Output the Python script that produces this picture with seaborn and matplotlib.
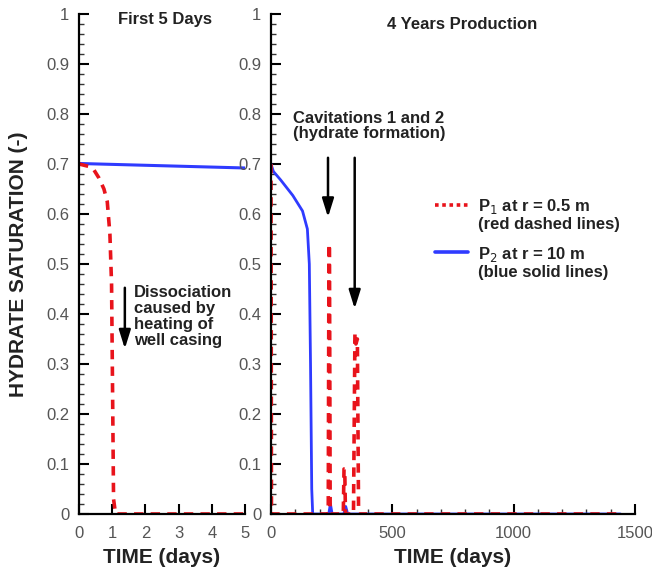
import matplotlib
matplotlib.use("Agg")
import matplotlib.pyplot as plt
import pandas as pd
import seaborn as sns
from matplotlib.lines import Line2D
from matplotlib.legend_handler import HandlerLine2D
from matplotlib.ticker import MultipleLocator, FormatStrFormatter

#########################
#         DATA          #
#########################
# first 5 days (well P1 at r=0.5 m, P2 at r=10 m)
p1_days_short = [0, 0.3, 0.45, 0.6, 0.75, 0.85, 0.93, 0.98, 1.01, 1.04, 1.1, 5]
p1_sat_short = [0.70, 0.695, 0.688, 0.672, 0.65, 0.625, 0.56, 0.46, 0.25, 0.03, 0, 0]
p2_days_short = [0, 5]
p2_sat_short = [0.701, 0.692]

# 4 years production
p1_days_long = [0, 1, 2, 236, 239, 241, 244, 298, 301, 304, 307, 340, 346, 350, 356, 361, 1440]
p1_sat_long = [0.70, 0.40, 0, 0, 0.54, 0.54, 0, 0, 0.09, 0.09, 0, 0, 0.36, 0.34, 0.35, 0, 0]
p2_days_long = [0, 10, 40, 90, 130, 150, 158, 163, 168, 172, 238, 245, 252, 300, 308, 316, 1440]
p2_sat_long = [0.70, 0.685, 0.668, 0.637, 0.606, 0.57, 0.5, 0.3, 0.05, 0, 0, 0.02, 0, 0, 0.015, 0, 0]

yticks = [0, 0.1, 0.2, 0.3, 0.4, 0.5, 0.6, 0.7, 0.8, 0.9, 1]

red = "#e8131b"
blue = "#2f3bff"


# legend sample sits on the first line of a two line label
class FirstLineHandler(HandlerLine2D):
    def create_artists(self, legend, orig_handle, xdescent, ydescent,
                       width, height, fontsize, trans):
        return super().create_artists(legend, orig_handle, xdescent,
                                      ydescent - 1.25 * fontsize, width, height,
                                      fontsize, trans)


sns.set_style("ticks", {"xtick.direction": "in", "ytick.direction": "in"})
plt.rcParams["font.family"] = ["Liberation Sans", "DejaVu Sans"]

fig = plt.figure(figsize=(6.52, 5.73), dpi=100)
ax1 = fig.add_axes([0.1212, 0.1030, 0.2546, 0.8726])
ax2 = fig.add_axes([0.4156, 0.1030, 0.5583, 0.8726])

df_p1s = pd.DataFrame({"t": p1_days_short, "s": p1_sat_short})
df_p2s = pd.DataFrame({"t": p2_days_short, "s": p2_sat_short})
df_p1l = pd.DataFrame({"t": p1_days_long, "s": p1_sat_long})
df_p2l = pd.DataFrame({"t": p2_days_long, "s": p2_sat_long})

dash = (0, (2.6, 2.0))
sns.lineplot(data=df_p2s, x="t", y="s", ax=ax1, color=blue, lw=2.2, sort=False, estimator=None)
sns.lineplot(data=df_p1s, x="t", y="s", ax=ax1, color=red, lw=2.6, linestyle=dash, sort=False, estimator=None)
sns.lineplot(data=df_p2l, x="t", y="s", ax=ax2, color=blue, lw=2.0, sort=False, estimator=None)
sns.lineplot(data=df_p1l, x="t", y="s", ax=ax2, color=red, lw=2.6, linestyle=dash, sort=False, estimator=None)

for ax in (ax1, ax2):
    ax.set_ylim(0, 1)
    ax.set_yticks(yticks)
    ax.yaxis.set_minor_locator(MultipleLocator(0.02))
    ax.yaxis.set_major_formatter(FormatStrFormatter("%g"))
    ax.tick_params(which="major", length=7, width=1.5, color="k",
                   labelsize=12, labelcolor="#555555", pad=7)
    ax.tick_params(which="minor", length=3.5, width=1, color="#333333")
    ax.tick_params(axis="x", which="major", pad=9)
    for side in ("left", "bottom"):
        ax.spines[side].set_linewidth(1.6)
        ax.spines[side].set_color("k")
    sns.despine(ax=ax)
    ax.set_xlabel("TIME (days)", fontsize=15, fontweight="bold", labelpad=5, color="#222222")

ax1.set_xlim(0, 5)
ax1.set_xticks([0, 1, 2, 3, 4, 5])
ax1.set_ylabel("HYDRATE SATURATION (-)", fontsize=15, fontweight="bold", labelpad=13, color="#222222")

ax2.set_xlim(0, 1500)
ax2.set_xticks([0, 500, 1000, 1500])
ax2.xaxis.set_minor_locator(MultipleLocator(100))
ax2.set_ylabel("")

# annotations
txt = "#222222"
ax1.text(2.59, 0.988, "First 5 Days", fontsize=12, fontweight="bold", ha="center", va="center", color=txt)
ax1.text(1.66, 0.458, "Dissociation\ncaused by\nheating of\nwell casing", color=txt,
         fontsize=12, fontweight="bold", ha="left", va="top", linespacing=1.08)
ax1.annotate("", xy=(1.38, 0.325), xytext=(1.38, 0.458),
             arrowprops=dict(arrowstyle="-|>,head_length=0.8,head_width=0.25",
                             mutation_scale=14, lw=1.8, color="k"))

ax2.text(787, 0.978, "4 Years Production", fontsize=12, fontweight="bold", ha="center", va="center", color=txt)
ax2.text(90, 0.806, "Cavitations 1 and 2\n(hydrate formation)", color=txt,
         fontsize=12, fontweight="bold", ha="left", va="top", linespacing=1.0)
for xa, ya in [(235, 0.588), (345, 0.405)]:
    ax2.annotate("", xy=(xa, ya), xytext=(xa, 0.718),
                 arrowprops=dict(arrowstyle="-|>,head_length=0.8,head_width=0.25",
                                 mutation_scale=14, lw=1.8, color="k"))

handles = [Line2D([], [], color=red, lw=2.6, linestyle=(0, (1, 1))),
           Line2D([], [], color=blue, lw=2.6)]
labels = ["P$_1$ at r = 0.5 m\n(red dashed lines)", "P$_2$ at r = 10 m\n(blue solid lines)"]
leg = ax2.legend(handles, labels, loc="upper left", bbox_to_anchor=(0.45, 0.633),
                 frameon=False, borderpad=0, borderaxespad=0, handlelength=2.0,
                 handletextpad=0.6, labelspacing=0.8,
                 handler_map={Line2D: FirstLineHandler()},
                 prop={"size": 12, "weight": "bold"})
for t in leg.get_texts():
    t.set_linespacing(1.05)
    t.set_color(txt)

fig.savefig("out.png", dpi=100)
